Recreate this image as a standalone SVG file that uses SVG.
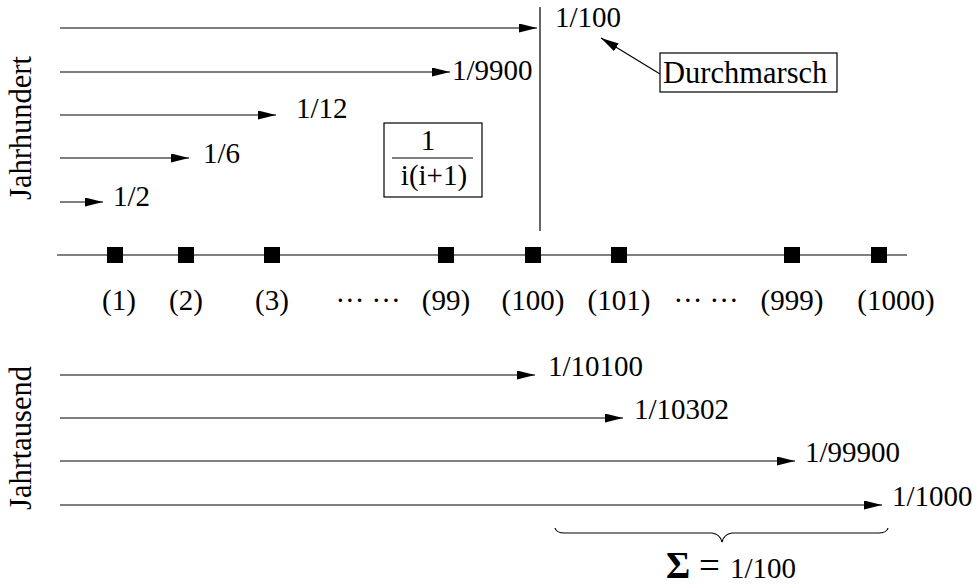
<svg xmlns="http://www.w3.org/2000/svg" width="977" height="585" viewBox="0 0 977 585">
<style>
  text { font-family: "Liberation Serif", Tinos, "Times New Roman", "DejaVu Serif", serif; font-size: 29px; fill: #000; }
  .word { font-size: 30.5px; }
  .ln { stroke: #000; stroke-width: 1.2; fill: none; }
  .arr { stroke: #000; stroke-width: 1.2; fill: none; marker-end: url(#ah); }
  .box { stroke: #000; stroke-width: 1.2; fill: #fff; }
  .sq { fill: #000; }
  .mid { text-anchor: middle; }
  .big { font-size: 37px; }
</style>
<defs>
  <marker id="ah" markerUnits="userSpaceOnUse" markerWidth="18" markerHeight="10" refX="18" refY="4.5" orient="auto">
    <path d="M0,0 L18,4.5 L0,9 z" fill="#000"/>
  </marker>
</defs>

<g id="labels-side">
  <text class="mid word" transform="translate(31,128) rotate(-90)">Jahrhundert</text>
  <text class="mid word" transform="translate(31,438) rotate(-90)">Jahrtausend</text>
</g>

<g id="connectors">
  <line class="arr" x1="60" y1="28" x2="537" y2="28"/>
  <line class="arr" x1="60" y1="72" x2="450" y2="72"/>
  <line class="arr" x1="60" y1="115" x2="276" y2="115"/>
  <line class="arr" x1="60" y1="158" x2="189" y2="158"/>
  <line class="arr" x1="60" y1="202" x2="103" y2="202"/>
  <line class="ln" x1="540" y1="7" x2="540" y2="231"/>
  <line class="arr" x1="660" y1="74" x2="601" y2="38"/>
  <line class="ln" x1="57" y1="255" x2="907" y2="255"/>
  <line class="arr" x1="60" y1="375" x2="535" y2="375"/>
  <line class="arr" x1="60" y1="418" x2="623" y2="418"/>
  <line class="arr" x1="60" y1="461" x2="795" y2="461"/>
  <line class="arr" x1="60" y1="505" x2="882" y2="505"/>
  <path class="ln" d="M555,528 Q556,533 565,533 L712,533 Q720,534 722,542 Q724,534 732,533 L878,533 Q887,533 888,528"/>
</g>

<g id="top-labels">
  <text x="555" y="27">1/100</text>
  <text x="452" y="80">1/9900</text>
  <text x="296" y="118">1/12</text>
  <text x="203" y="163">1/6</text>
  <text x="113" y="206">1/2</text>
</g>

<g id="durchmarsch">
  <rect class="box" x="660" y="53" width="177" height="39"/>
  <text class="word" x="663" y="83">Durchmarsch</text>
</g>

<g id="fraction">
  <rect class="box" x="384" y="123" width="98" height="74"/>
  <text class="mid" x="428" y="150">1</text>
  <line class="ln" x1="392" y1="158" x2="473" y2="158"/>
  <text class="mid" x="434" y="185">i(i+1)</text>
</g>

<g id="axis-nodes">
  <rect class="sq" x="107" y="247" width="16" height="16"/>
  <rect class="sq" x="178" y="247" width="16" height="16"/>
  <rect class="sq" x="264" y="247" width="16" height="16"/>
  <rect class="sq" x="438" y="247" width="16" height="16"/>
  <rect class="sq" x="525" y="247" width="16" height="16"/>
  <rect class="sq" x="611" y="247" width="16" height="16"/>
  <rect class="sq" x="784" y="247" width="16" height="16"/>
  <rect class="sq" x="871" y="247" width="16" height="16"/>
</g>

<g id="axis-labels">
  <text class="mid" x="119" y="310">(1)</text>
  <text class="mid" x="186" y="310">(2)</text>
  <text class="mid" x="272" y="310">(3)</text>
  <text class="mid" x="368" y="310">··· ···</text>
  <text class="mid" x="446" y="310">(99)</text>
  <text class="mid" x="533" y="310">(100)</text>
  <text class="mid" x="619" y="310">(101)</text>
  <text class="mid" x="706" y="310">··· ···</text>
  <text class="mid" x="792" y="310">(999)</text>
  <text class="mid" x="896" y="310">(1000)</text>
</g>

<g id="bottom-labels">
  <text x="548" y="376">1/10100</text>
  <text x="634" y="419">1/10302</text>
  <text x="805" y="462">1/99900</text>
  <text x="892" y="506">1/1000</text>
</g>

<g id="sum">
  <text class="big" x="666" y="578" font-weight="bold">Σ</text>
  <text class="big" x="699" y="578">=</text>
  <text x="730" y="578">1/100</text>
</g>
</svg>
